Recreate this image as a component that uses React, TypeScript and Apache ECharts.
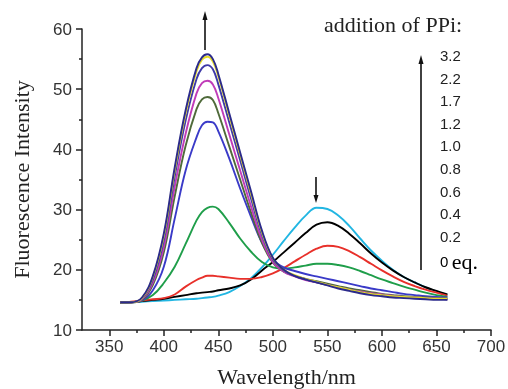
import React, { useEffect, useRef } from "react";
import * as echarts from "echarts";

// Wavelength grid (nm)
const wavelengths = [360, 370, 380, 390, 400, 410, 420, 430, 435, 440, 445, 450, 460, 470, 480, 490, 500, 510, 520, 530, 540, 550, 560, 570, 580, 590, 600, 610, 620, 630, 640, 650, 660];

// Fluorescence intensity for each PPi addition (eq.)
const eq0 = [14.5, 14.6, 14.7, 14.8, 14.9, 15.0, 15.1, 15.2, 15.3, 15.4, 15.5, 15.7, 16.3, 17.3, 18.6, 20.4, 22.5, 24.8, 27.0, 29.0, 30.3, 30.1, 29.0, 27.3, 25.2, 23.2, 21.5, 20.0, 18.8, 17.9, 17.1, 16.4, 15.8];
const eq02 = [14.5, 14.6, 14.8, 15.0, 15.2, 15.5, 15.8, 16.1, 16.2, 16.3, 16.4, 16.6, 16.9, 17.4, 18.4, 19.9, 21.3, 22.9, 24.5, 26.1, 27.5, 27.9, 27.3, 26.0, 24.4, 22.7, 21.2, 19.9, 18.8, 17.9, 17.1, 16.5, 15.9];
const eq04 = [14.5, 14.7, 14.9, 15.1, 15.3, 15.9, 17.2, 18.3, 18.7, 19.0, 19.0, 18.9, 18.7, 18.5, 18.5, 18.8, 19.4, 20.3, 21.4, 22.5, 23.5, 24.0, 23.8, 23.1, 22.1, 21.0, 19.9, 18.9, 18.0, 17.3, 16.7, 16.2, 15.7];
const eq06 = [14.5, 14.6, 14.9, 15.8, 17.8, 20.5, 24.3, 28.2, 29.6, 30.3, 30.5, 30.1, 27.8, 25.2, 23.0, 21.3, 20.4, 20.2, 20.4, 20.7, 21.0, 21.0, 20.8, 20.4, 19.8, 19.1, 18.4, 17.8, 17.2, 16.7, 16.2, 15.8, 15.5];
const eq08 = [14.6, 14.6, 14.9, 16.6, 20.5, 28.5, 36.5, 42.0, 44.0, 44.6, 44.5, 43.0, 38.5, 33.5, 28.8, 24.5, 21.7, 20.4, 19.8, 19.3, 18.9, 18.5, 18.1, 17.7, 17.3, 16.9, 16.6, 16.3, 16.0, 15.8, 15.6, 15.5, 15.4];
const eq10 = [14.6, 14.6, 15.0, 17.5, 22.9, 32.2, 40.6, 46.7, 48.3, 48.7, 48.2, 46.0, 40.5, 35.0, 29.5, 24.5, 21.2, 19.7, 19.0, 18.5, 18.1, 17.7, 17.3, 16.9, 16.6, 16.3, 16.0, 15.8, 15.6, 15.5, 15.4, 15.3, 15.2];
const eq12 = [14.6, 14.6, 15.1, 17.9, 23.8, 33.8, 42.6, 49.3, 51.0, 51.4, 50.8, 48.5, 42.5, 36.5, 30.5, 25.0, 21.3, 19.7, 18.9, 18.3, 17.9, 17.5, 17.1, 16.7, 16.4, 16.1, 15.9, 15.7, 15.5, 15.4, 15.3, 15.2, 15.1];
const eq17 = [14.6, 14.6, 15.2, 18.4, 24.9, 35.5, 44.8, 51.7, 53.5, 54.0, 53.3, 50.8, 44.5, 38.2, 31.8, 25.8, 21.7, 19.9, 19.0, 18.4, 17.9, 17.5, 17.1, 16.7, 16.3, 16.0, 15.8, 15.6, 15.5, 15.4, 15.3, 15.2, 15.1];
const eq22 = [14.6, 14.6, 15.3, 18.8, 25.6, 36.5, 46.0, 53.0, 54.9, 55.4, 54.6, 52.1, 45.6, 39.1, 32.6, 26.2, 21.9, 20.0, 19.1, 18.5, 18.0, 17.5, 17.1, 16.7, 16.3, 16.0, 15.8, 15.6, 15.5, 15.4, 15.3, 15.2, 15.2];
const eq32 = [14.6, 14.6, 15.4, 19.0, 26.0, 37.0, 46.5, 53.5, 55.3, 55.8, 55.0, 52.5, 46.0, 39.5, 33.0, 26.5, 22.0, 20.0, 19.0, 18.4, 17.9, 17.4, 16.9, 16.5, 16.1, 15.8, 15.6, 15.4, 15.3, 15.2, 15.1, 15.0, 15.0];

const seriesNames = ["0", "0.2", "0.4", "0.6", "0.8", "1.0", "1.2", "1.7", "2.2", "3.2"];
const seriesData = [eq0, eq02, eq04, eq06, eq08, eq10, eq12, eq17, eq22, eq32];
const seriesColors = ["#22b6e2", "#000000", "#e8302a", "#1f9e4a", "#3a3ac8", "#4f6a3a", "#c03cb8", "#3f3aa8", "#e6dc2a", "#2b2a8c"];

// Legend text (top to bottom)
const ppiLabels = ["3.2", "2.2", "1.7", "1.2", "1.0", "0.8", "0.6", "0.4", "0.2"];

const xMajorTicks = [350, 400, 450, 500, 550, 600, 650, 700];
const xMinorTicks = [375, 425, 475, 525, 575, 625, 675];

const SERIF = "'Liberation Serif', 'Times New Roman', serif";
const SANS = "'Liberation Sans', Arial, sans-serif";

export default function App() {
  const ref = useRef<HTMLDivElement>(null);
  useEffect(() => {
    if (!ref.current) return;
    const chart = echarts.init(ref.current, undefined, { renderer: "svg" });

    const series = seriesData.map((d, i) => ({
      name: seriesNames[i],
      type: "line",
      xAxisIndex: 0,
      yAxisIndex: 0,
      data: wavelengths.map((w, j) => [w, d[j]]),
      smooth: 0.4,
      symbol: "none",
      lineStyle: { color: seriesColors[i], width: 1.9 },
      z: 2 + i,
    }));

    const legendTexts: any[] = ppiLabels.map((t, i) => ({
      type: "text",
      left: 440,
      top: 57 + i * 22.6 - 9,
      style: { text: t, font: `15px ${SANS}`, fill: "#222" },
    }));

    const arrowStyle = { stroke: "#111", lineWidth: 1.6 };

    const option: any = {
      animation: false,
      grid: { left: 82, right: 17, top: 29, bottom: 59, containLabel: false, outerBoundsMode: "none" },
      xAxis: [
        {
          type: "value",
          min: 325,
          max: 700,
          interval: 25,
          name: "Wavelength/nm",
          nameLocation: "middle",
          nameGap: 35,
          nameTextStyle: { fontFamily: SERIF, fontSize: 22, color: "#222" },
          axisLine: { show: true, lineStyle: { color: "#222", width: 1.5 } },
          axisTick: { show: true, length: 6, customValues: xMajorTicks, lineStyle: { color: "#222", width: 1.5 } },
          axisLabel: { customValues: xMajorTicks, fontFamily: SANS, fontSize: 17, color: "#333", margin: 8 },
          splitLine: { show: false },
        },
        {
          type: "value",
          min: 325,
          max: 700,
          interval: 25,
          position: "bottom",
          axisLine: { show: false },
          axisTick: { show: true, length: 3, customValues: xMinorTicks, lineStyle: { color: "#222", width: 1.5 } },
          axisLabel: { show: false },
          splitLine: { show: false },
        },
      ],
      yAxis: {
        type: "value",
        min: 10,
        max: 60,
        interval: 10,
        name: "Fluorescence Intensity",
        nameLocation: "middle",
        nameGap: 50,
        nameTextStyle: { fontFamily: SERIF, fontSize: 22, color: "#222" },
        axisLine: { show: true, lineStyle: { color: "#222", width: 1.5 } },
        axisTick: { show: true, length: 6, lineStyle: { color: "#222", width: 1.5 } },
        minorTick: { show: true, splitNumber: 2, length: 3, lineStyle: { color: "#222", width: 1.5 } },
        axisLabel: { fontFamily: SANS, fontSize: 17, color: "#333", margin: 10 },
        splitLine: { show: false },
        minorSplitLine: { show: false },
      },
      series,
      graphic: [
        {
          type: "text",
          left: 324,
          top: 13,
          style: { text: "addition of PPi:", font: `22px ${SERIF}`, fill: "#222" },
        },
        ...legendTexts,
        {
          type: "text",
          left: 440,
          top: 250,
          style: {
            text: "{a|0} {b|eq.}",
            rich: {
              a: { fontSize: 15, fontFamily: SANS, color: "#222" },
              b: { fontSize: 22, fontFamily: SERIF, color: "#222" },
            },
          },
        },
        // vertical legend arrow
        { type: "line", shape: { x1: 421, y1: 62, x2: 421, y2: 270 }, style: arrowStyle },
        { type: "polygon", shape: { points: [[421, 55], [418.5, 64], [423.5, 64]] }, style: { fill: "#111" } },
        // up arrow above the peak
        { type: "line", shape: { x1: 205, y1: 18, x2: 205, y2: 50 }, style: arrowStyle },
        { type: "polygon", shape: { points: [[205, 11], [202.5, 20], [207.5, 20]] }, style: { fill: "#111" } },
        // down arrow above the 540 nm band
        { type: "line", shape: { x1: 316, y1: 177, x2: 316, y2: 197 }, style: arrowStyle },
        { type: "polygon", shape: { points: [[316, 203], [313.5, 195], [318.5, 195]] }, style: { fill: "#111" } },
      ],
    };

    chart.setOption(option);
    return () => chart.dispose();
  }, []);

  return <div ref={ref} style={{ position: "fixed", left: 0, top: 0, width: 508, height: 389 }} />;
}
